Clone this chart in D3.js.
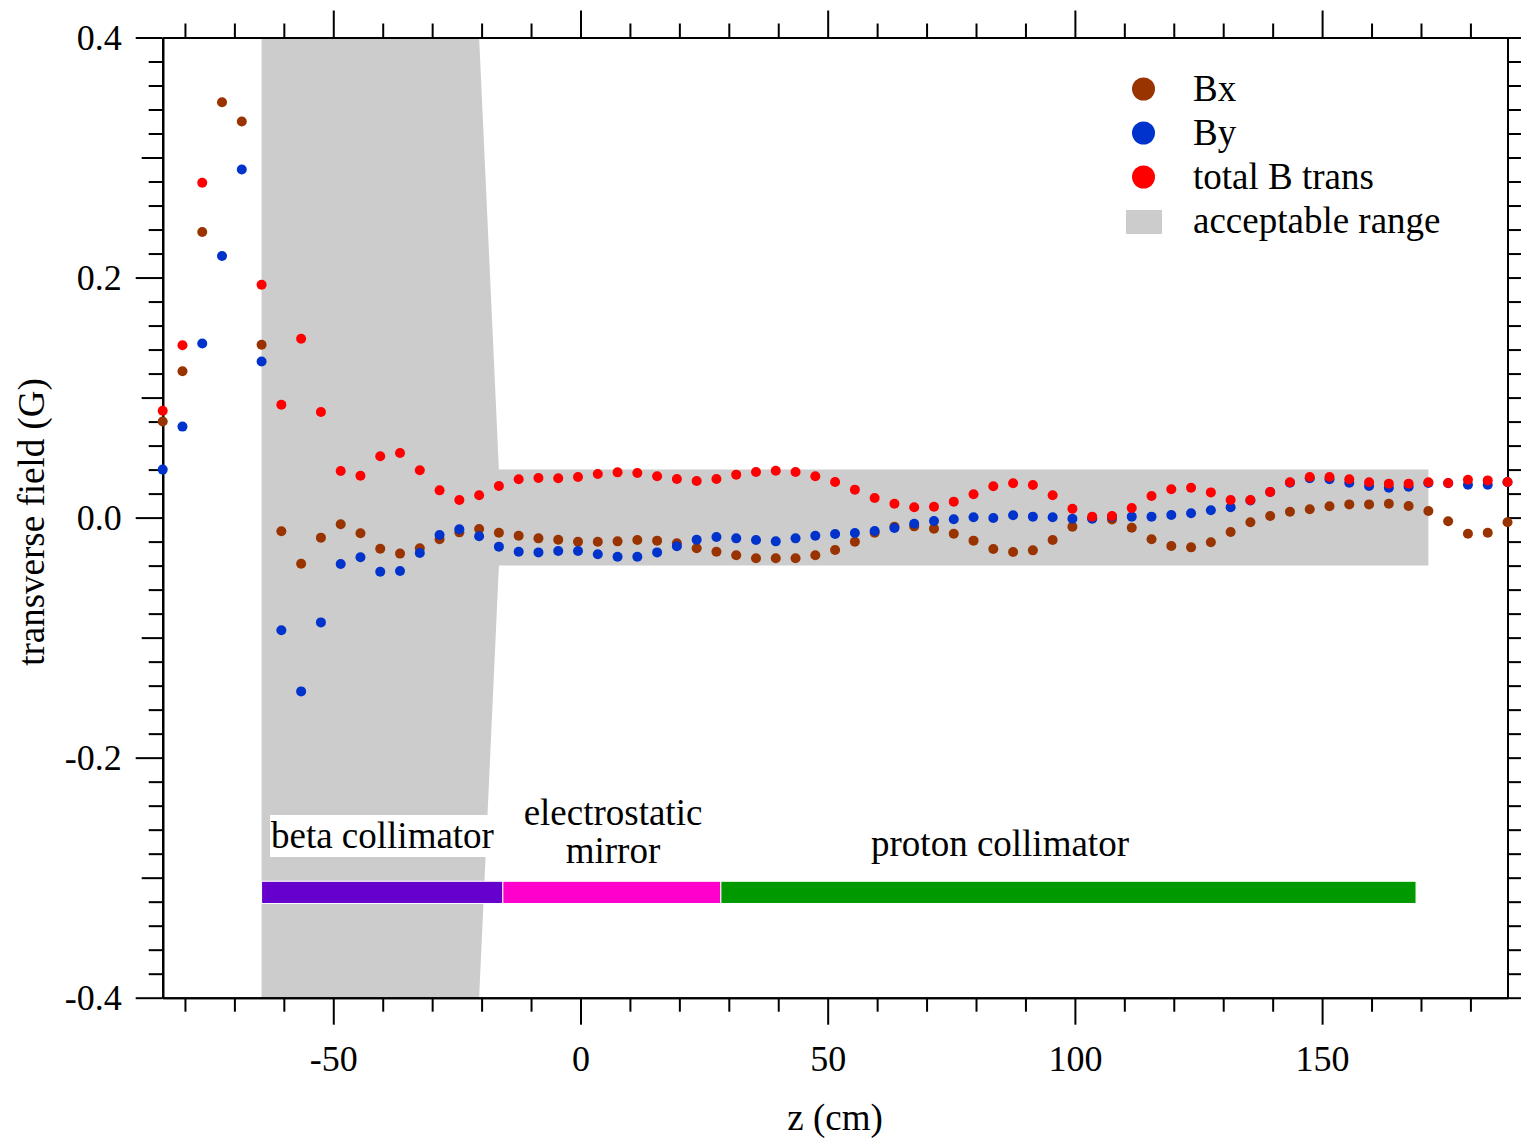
<!DOCTYPE html>
<html>
<head>
<meta charset="utf-8">
<script src="https://cdn.jsdelivr.net/npm/d3@7"></script>
<style>
  body { margin: 0; background: #fff; }
  text { font-family: "Liberation Serif", "Times New Roman", serif; fill: #000; }
</style>
</head>
<body>
<svg id="chart" width="1521" height="1142"></svg>
<script>
// Probe positions along the beam axis (cm)
const zPositions = [
  -84.5, -80.5, -76.5, -72.5, -68.5, -64.5, -60.5, -56.5, -52.5, -48.5,
  -44.5, -40.5, -36.5, -32.5, -28.5, -24.5, -20.5, -16.5, -12.5, -8.5,
  -4.5, -0.5, 3.5, 7.5, 11.5, 15.5, 19.5, 23.5, 27.5, 31.5,
  35.5, 39.5, 43.5, 47.5, 51.5, 55.5, 59.5, 63.5, 67.5, 71.5,
  75.5, 79.5, 83.5, 87.5, 91.5, 95.5, 99.5, 103.5, 107.5, 111.5,
  115.5, 119.5, 123.5, 127.5, 131.5, 135.5, 139.5, 143.5, 147.5, 151.5,
  155.5, 159.5, 163.5, 167.5, 171.5, 175.5, 179.5, 183.5, 187.5
];

// Transverse field components (G)
const bx = [
  0.080, 0.122, 0.238, 0.346, 0.330, 0.144, -0.0114, -0.0384, -0.0167, -0.0056,
  -0.0131, -0.0259, -0.030, -0.0256, -0.0181, -0.0123, -0.0095, -0.0126, -0.0151, -0.0173,
  -0.0184, -0.0201, -0.0201, -0.0198, -0.0187, -0.0192, -0.0214, -0.0256, -0.0284, -0.0314,
  -0.0339, -0.0339, -0.0339, -0.0314, -0.0270, -0.0201, -0.0126, -0.0076, -0.0073, -0.0092,
  -0.0134, -0.0192, -0.0262, -0.0287, -0.0273, -0.0187, -0.0076, -0.0006, -0.0015, -0.0084,
  -0.0181, -0.0237, -0.0248, -0.0206, -0.0120, -0.0039, 0.0013, 0.0049, 0.0069, 0.0094,
  0.0110, 0.0110, 0.0116, 0.0097, 0.0055, -0.0031, -0.0134, -0.0126, -0.0039
];

const by = [
  0.040, 0.0758, 0.145, 0.218, 0.290, 0.130, -0.0939, -0.1448, -0.0873, -0.0387,
  -0.0331, -0.0451, -0.0445, -0.0295, -0.0145, -0.0098, -0.0156, -0.0242, -0.0284, -0.0290,
  -0.0278, -0.0278, -0.0306, -0.0326, -0.0326, -0.0290, -0.0239, -0.0184, -0.0162, -0.0173,
  -0.0187, -0.0198, -0.0173, -0.0151, -0.0137, -0.0128, -0.0112, -0.0087, -0.0051, -0.0028,
  -0.0014, 0.0003, -0.0003, 0.0019, 0.0008, 0.0003, -0.0009, -0.0009, 0.0008, 0.0008,
  0.0008, 0.0022, 0.0036, 0.0061, 0.0086, 0.0142, 0.0213, 0.0290, 0.0328, 0.0319,
  0.0291, 0.0263, 0.0249, 0.0258, 0.0289, 0.0286, 0.0274, 0.0274, 0.0294
];

const bTotal = [
  0.089, 0.1436, 0.279, 0.409, 0.439, 0.194, 0.094, 0.149, 0.088, 0.0388,
  0.0349, 0.0511, 0.0538, 0.0394, 0.0227, 0.0147, 0.0186, 0.0263, 0.0319, 0.0330,
  0.0328, 0.0338, 0.0363, 0.0377, 0.0372, 0.0344, 0.0322, 0.0305, 0.0322, 0.0358,
  0.0380, 0.0391, 0.0380, 0.0344, 0.0297, 0.0233, 0.0163, 0.0116, 0.0086, 0.0091,
  0.0133, 0.0194, 0.0261, 0.0286, 0.0272, 0.0186, 0.0074, 0.0008, 0.0013, 0.0080,
  0.0180, 0.0236, 0.0249, 0.0210, 0.0147, 0.0147, 0.0213, 0.0294, 0.0338, 0.0338,
  0.0319, 0.0294, 0.0283, 0.0283, 0.0294, 0.0288, 0.0316, 0.0310, 0.0297
];

// Acceptable-range outline: (z, field) corners
const rangeZ = [-64.5, -20.5, -16.5, 171.5, 171.5, -16.5, -20.5, -64.5];
const rangeB = [0.4, 0.4, 0.04, 0.04, -0.04, -0.04, -0.4, -0.4];

// Apparatus sections along z
const sectionNames = ["beta collimator", "electrostatic mirror", "proton collimator"];
const sectionStart = [-64.5, -15.7, 28.4];
const sectionEnd = [-15.7, 28.4, 169.0];
const sectionBarTop = -0.303;
const sectionBarBottom = -0.3215;

// Axis ticks
const xMajorTicks = [-50, 0, 50, 100, 150];
const xMinorTicks = [-80, -70, -60, -40, -30, -20, -10, 10, 20, 30, 40, 60, 70, 80, 90,
  110, 120, 130, 140, 160, 170, 180];
const yLabelTicks = [-0.4, -0.2, 0.0, 0.2, 0.4];
const yMidTicks = [-0.3, -0.1, 0.1, 0.3];
const yMinorTicks = [-0.38, -0.36, -0.34, -0.32, -0.28, -0.26, -0.24, -0.22, -0.18, -0.16,
  -0.14, -0.12, -0.08, -0.06, -0.04, -0.02, 0.02, 0.04, 0.06, 0.08, 0.12, 0.14, 0.16, 0.18,
  0.22, 0.24, 0.26, 0.28, 0.32, 0.34, 0.36, 0.38];

const seriesNames = ["Bx", "By", "total B trans"];
const rangeName = "acceptable range";

const colors = { bx: "#993300", by: "#0033cc", total: "#ff0000", range: "#cccccc" };
const sectionColors = ["#6600cc", "#ff00cc", "#009900"];

const svg = d3.select("#chart");
const W = 1521, H = 1142;
svg.append("rect").attr("width", W).attr("height", H).attr("fill", "#fff");

const x = d3.scaleLinear().domain([-84.5, 187.5]).range([162.7, 1507.5]);
const y = d3.scaleLinear().domain([-0.4, 0.4]).range([997.7, 37.5]);
const FS = 36;   // tick labels
const FL = 37;   // titles, legend, annotations

// clip for data marks: keep vertical extent of the plot only
svg.append("defs").append("clipPath").attr("id", "plotClip")
  .append("rect").attr("x", 0).attr("y", y(0.4) - 1).attr("width", W).attr("height", y(-0.4) - y(0.4) + 2);

// acceptable range region
const rangePts = rangeZ.map((z, i) => [x(z), y(rangeB[i])]);
svg.append("path")
  .attr("d", d3.line()(rangePts) + "Z")
  .attr("fill", colors.range);

// label box for beta collimator sits over the shaded region
svg.append("rect")
  .attr("x", 270).attr("y", 815).attr("width", 218).attr("height", 42)
  .attr("fill", "#fff");

// section bars
svg.append("g").selectAll("rect").data(sectionNames).join("rect")
  .attr("x", (d, i) => x(sectionStart[i]))
  .attr("y", y(sectionBarTop))
  .attr("width", (d, i) => x(sectionEnd[i]) - x(sectionStart[i]))
  .attr("height", y(sectionBarBottom) - y(sectionBarTop))
  .attr("fill", (d, i) => sectionColors[i])
  .attr("stroke", "#fff").attr("stroke-width", 1);

// section labels
const lab = svg.append("g").attr("font-size", FL);
lab.append("text").attr("x", 271).attr("y", 848).text("beta collimator");
lab.append("text").attr("x", 613).attr("y", 825).attr("text-anchor", "middle").text("electrostatic");
lab.append("text").attr("x", 613).attr("y", 863).attr("text-anchor", "middle").text("mirror");
lab.append("text").attr("x", 1000).attr("y", 856).attr("text-anchor", "middle").text("proton collimator");

// axes
function styleAxis(g) {
  g.selectAll("path.domain").attr("stroke", "#000").attr("stroke-width", 2);
  g.selectAll(".tick line").attr("stroke", "#000").attr("stroke-width", 2);
  g.selectAll(".tick text").attr("font-size", FS).attr("font-family", "Liberation Serif, Times New Roman, serif").attr("fill", "#000");
}
const axes = svg.append("g");
const yb = y(-0.4), yt = y(0.4), xl = x(-84.5), xr = x(187.5);

// bottom
axes.append("g").attr("transform", `translate(0,${yb})`)
  .call(d3.axisBottom(x).tickValues(xMinorTicks).tickSize(14).tickSizeOuter(0).tickFormat(""))
  .call(styleAxis);
axes.append("g").attr("transform", `translate(0,${yb})`)
  .call(d3.axisBottom(x).tickValues(xMajorTicks).tickSize(27).tickSizeOuter(0).tickPadding(21).tickFormat(d => String(d)))
  .call(styleAxis);
// top
axes.append("g").attr("transform", `translate(0,${yt})`)
  .call(d3.axisTop(x).tickValues(xMinorTicks).tickSize(14).tickSizeOuter(0).tickFormat(""))
  .call(styleAxis);
axes.append("g").attr("transform", `translate(0,${yt})`)
  .call(d3.axisTop(x).tickValues(xMajorTicks).tickSize(27).tickSizeOuter(0).tickFormat(""))
  .call(styleAxis);
// left
axes.append("g").attr("transform", `translate(${xl},0)`)
  .call(d3.axisLeft(y).tickValues(yMinorTicks).tickSize(14).tickSizeOuter(0).tickFormat(""))
  .call(styleAxis);
axes.append("g").attr("transform", `translate(${xl},0)`)
  .call(d3.axisLeft(y).tickValues(yMidTicks).tickSize(21).tickSizeOuter(0).tickFormat(""))
  .call(styleAxis);
axes.append("g").attr("transform", `translate(${xl},0)`)
  .call(d3.axisLeft(y).tickValues(yLabelTicks).tickSize(27).tickSizeOuter(0).tickPadding(14).tickFormat(d => d.toFixed(1)))
  .call(styleAxis);
// right
axes.append("g").attr("transform", `translate(${xr},0)`)
  .call(d3.axisRight(y).tickValues(yMinorTicks).tickSize(14).tickSizeOuter(0).tickFormat(""))
  .call(styleAxis);
axes.append("g").attr("transform", `translate(${xr},0)`)
  .call(d3.axisRight(y).tickValues(yMidTicks).tickSize(21).tickSizeOuter(0).tickFormat(""))
  .call(styleAxis);
axes.append("g").attr("transform", `translate(${xr},0)`)
  .call(d3.axisRight(y).tickValues(yLabelTicks).tickSize(27).tickSizeOuter(0).tickFormat(""))
  .call(styleAxis);

// axis titles
svg.append("text").attr("x", 835).attr("y", 1130).attr("text-anchor", "middle")
  .attr("font-size", FL).text("z (cm)");
svg.append("text").attr("transform", "translate(44,522) rotate(-90)").attr("text-anchor", "middle")
  .attr("font-size", FL).text("transverse field (G)");

// data points
const pts = svg.append("g").attr("clip-path", "url(#plotClip)");
const series = [
  { vals: bx, color: colors.bx },
  { vals: by, color: colors.by },
  { vals: bTotal, color: colors.total }
];
series.forEach(s => {
  pts.append("g").selectAll("circle").data(zPositions).join("circle")
    .attr("cx", d => x(d))
    .attr("cy", (d, i) => y(s.vals[i]))
    .attr("r", 5)
    .attr("fill", s.color);
});

// legend
const leg = svg.append("g");
const legColors = [colors.bx, colors.by, colors.total];
const legY = [89, 133, 177, 222];
seriesNames.forEach((n, i) => {
  leg.append("circle").attr("cx", 1143.5).attr("cy", legY[i]).attr("r", 11.5).attr("fill", legColors[i]);
  leg.append("text").attr("x", 1193).attr("y", legY[i] + 12).attr("font-size", FL).text(n);
});
leg.append("rect").attr("x", 1126).attr("y", legY[3] - 12).attr("width", 36).attr("height", 24).attr("fill", colors.range);
leg.append("text").attr("x", 1193).attr("y", legY[3] + 11).attr("font-size", FL).text(rangeName);
</script>
</body>
</html>
